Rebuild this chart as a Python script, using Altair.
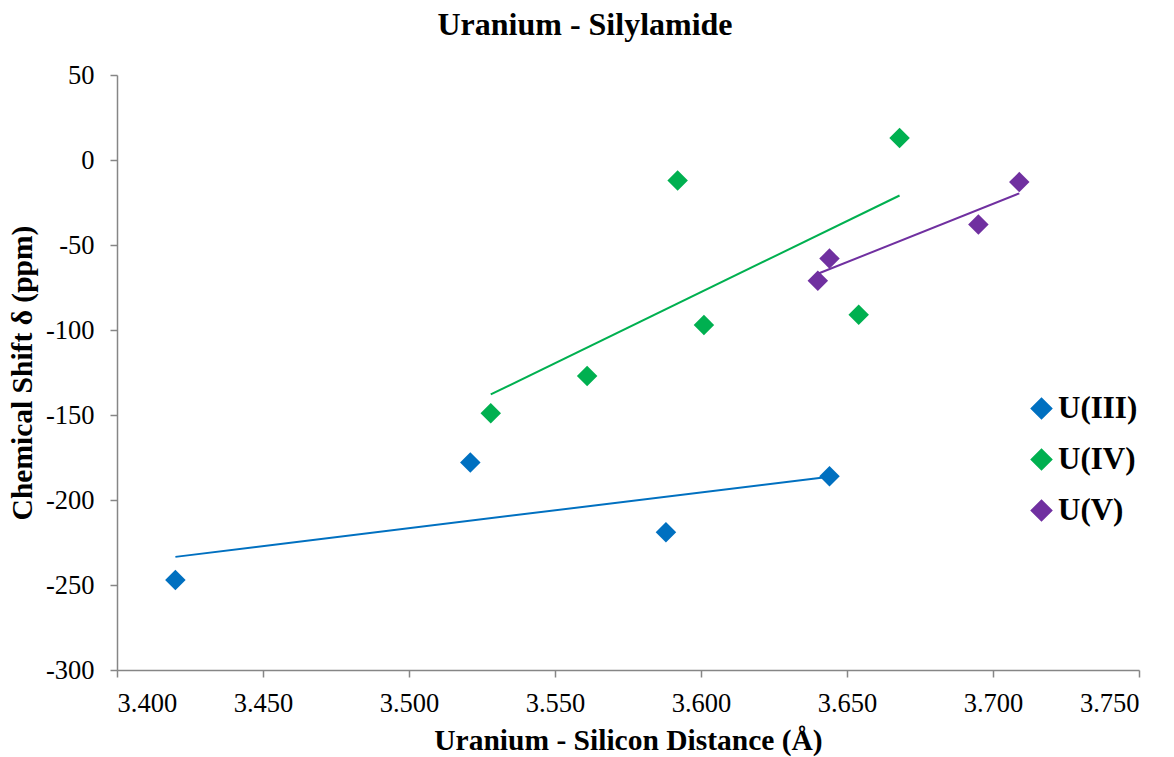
import altair as alt
import pandas as pd

# Data
u3_x = [3.420, 3.521, 3.588, 3.644]
u3_y = [-247, -178, -219, -186]

u4_x = [3.528, 3.561, 3.592, 3.601, 3.654, 3.668]
u4_y = [-149, -127, -12, -97, -91, 13]

u5_x = [3.640, 3.644, 3.695, 3.709]
u5_y = [-71, -58, -38, -13]

series_names = ["U(III)", "U(IV)", "U(V)"]
series_colors = ["#0070C0", "#00B050", "#7030A0"]

rows = []
for name, xs, ys in zip(series_names, [u3_x, u4_x, u5_x], [u3_y, u4_y, u5_y]):
    for xv, yv in zip(xs, ys):
        rows.append({"series": name, "x": xv, "y": yv})
df = pd.DataFrame(rows)

FONT = "Liberation Serif"

xscale = alt.Scale(domain=[3.4, 3.75], nice=False, zero=False)
yscale = alt.Scale(domain=[-300, 50], nice=False, zero=False)
cscale = alt.Scale(domain=series_names, range=series_colors)

x_axis = alt.Axis(
    title="Uranium - Silicon Distance (Å)",
    values=[3.40, 3.45, 3.50, 3.55, 3.60, 3.65, 3.70, 3.75],
    format=".3f",
    grid=False,
    domainColor="#868686",
    tickColor="#868686",
    tickSize=7,
    domainWidth=1.5,
    tickWidth=1.5,
    labelFont=FONT,
    labelFontSize=26.5,
    labelColor="black",
    labelPadding=13,
    titleFont=FONT,
    titleFontSize=29.5,
    titleFontWeight="bold",
    titleColor="black",
    titlePadding=10,
)
y_axis = alt.Axis(
    title="Chemical Shift δ (ppm)",
    values=[-300, -250, -200, -150, -100, -50, 0, 50],
    labelExpr="datum.value + ''",
    grid=False,
    domainColor="#868686",
    tickColor="#868686",
    tickSize=7,
    domainWidth=1.5,
    tickWidth=1.5,
    labelFont=FONT,
    labelFontSize=26.5,
    labelColor="black",
    labelPadding=16,
    titleFont=FONT,
    titleFontSize=29.5,
    titleFontWeight="bold",
    titleColor="black",
    titlePadding=8,
)

base = alt.Chart(df)

lines = base.transform_regression(
    "x", "y", groupby=["series"]
).mark_line(strokeWidth=2).encode(
    x=alt.X("x:Q", scale=xscale, axis=x_axis),
    y=alt.Y("y:Q", scale=yscale, axis=y_axis),
    color=alt.Color("series:N", scale=cscale, legend=None),
)

points = base.mark_point(shape="diamond", filled=True, size=420, opacity=1).encode(
    x=alt.X("x:Q", scale=xscale),
    y=alt.Y("y:Q", scale=yscale),
    color=alt.Color(
        "series:N",
        scale=cscale,
        legend=alt.Legend(
            title=None,
            orient="none",
            legendX=909,
            legendY=318,
            symbolType="diamond",
            symbolSize=420,
            symbolOpacity=1,
            labelFont=FONT,
            labelFontSize=31,
            labelFontWeight="bold",
            labelColor="black",
            labelOffset=1,
            rowPadding=19,
            padding=0,
        ),
    ),
)

chart = alt.layer(points, lines).properties(
    width=1022,
    height=595,
    title=alt.TitleParams(
        "Uranium - Silylamide",
        font=FONT,
        fontSize=32,
        fontWeight="bold",
        color="black",
        anchor="middle",
        dx=-43,
        offset=20,
    ),
    autosize=alt.AutoSizeParams(type="none"),
    padding={"left": 117, "top": 75, "right": 35, "bottom": 87},
).configure_view(stroke=None)

chart.save("out.html", embed_options={"renderer": "svg", "actions": False})
